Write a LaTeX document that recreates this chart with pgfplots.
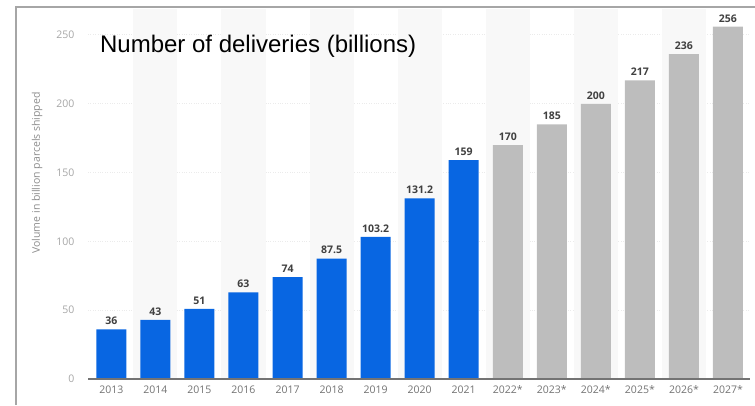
\documentclass[border=0pt]{standalone}
\usepackage{pgfplots}
\pgfplotsset{compat=1.18}
\usepackage{fontspec}
\setmainfont{Open Sans}
\newfontfamily\arialfont{Liberation Sans}
\definecolor{sblue}{HTML}{0866E2}
\definecolor{sgray}{HTML}{BDBDBD}
\definecolor{band}{HTML}{F8F8F8}
\definecolor{frame}{HTML}{A6A6A6}
\begin{document}
\begin{tikzpicture}[x=1pt,y=1pt]
\path[use as bounding box] (0,0) rectangle (755,405);
\begin{axis}[
  at={(88pt,26pt)}, anchor=south west,
  scale only axis, width=662pt, height=357.8pt,
  xmin=-0.53, xmax=14.5, ymin=0, ymax=260,
  axis line style={draw=none},
  axis x line*=bottom,
  ytick={0,50,100,150,200,250},
  xtick={0,...,14},
  xticklabels={2013,2014,2015,2016,2017,2018,2019,2020,2021,2022*,2023*,2024*,2025*,2026*,2027*},
  tick style={draw=none},
  x tick label style={font=\fontsize{10.5}{12}\selectfont, text=black!55, yshift=1pt},
  y tick label style={font=\fontsize{10.5}{12}\selectfont, text=black!35, xshift=-10pt},
  /pgf/number format/assume math mode=true,
  ymajorgrids, grid style={draw=black!8, dotted, line width=1pt},
  ylabel={Volume in billion parcels shipped},
  ylabel style={font=\fontsize{10.5}{12}\selectfont, text=black!45, at={(axis description cs:-0.077,0.576)}, anchor=center},
  ybar, bar width=30pt, bar shift=0pt,
  clip=false,
  nodes near coords,
  every node near coord/.append style={font=\bfseries\fontsize{10.5}{12}\selectfont, text=black!75, yshift=1pt},
  point meta=explicit symbolic,
]
\pgfplotsinvokeforeach{1,3,5,7,9,11,13}{
  \fill[band] (axis cs:#1-0.5,0) rectangle (axis cs:#1+0.5,269);
}
\addplot[fill=sblue, draw=none] coordinates {
 (0,36) [36] (1,43) [43] (2,51) [51] (3,63) [63] (4,74) [74]
 (5,87.5) [87.5] (6,103.2) [103.2] (7,131.2) [131.2] (8,159) [159]};
\addplot[fill=sgray, draw=none] coordinates {
 (9,170) [170] (10,185) [185] (11,200) [200] (12,217) [217] (13,236) [236] (14,256) [256]};
\draw[black!55, line width=1.8pt] (axis cs:-0.53,0) -- (axis cs:14.5,0);
\node[anchor=base west, inner sep=0pt, font=\arialfont\fontsize{24}{28}\selectfont] at (axis cs:-0.26,237) {Number of deliveries (billions)};
\end{axis}
\draw[frame, line width=2pt] (16,0) -- (16,398) -- (755,398);
\end{tikzpicture}
\end{document}
